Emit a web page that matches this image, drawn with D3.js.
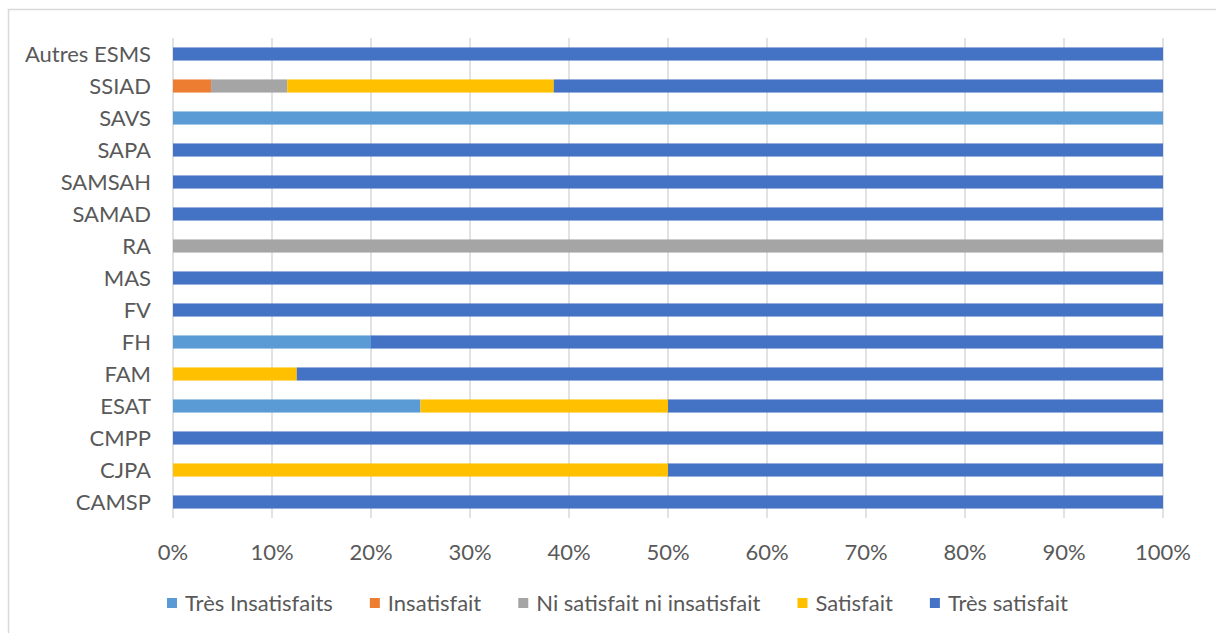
<!DOCTYPE html>
<html>
<head>
<meta charset="utf-8">
<script src="https://cdn.jsdelivr.net/npm/d3@7"></script>
<style>
  body { margin: 0; background: #fff; }
  svg text { font-family: Lato, "Open Sans", sans-serif; fill: #595959; }
</style>
</head>
<body>
<svg id="chart" width="1216" height="633"></svg>
<script>
// categories, top to bottom
const categories = ["Autres ESMS", "SSIAD", "SAVS", "SAPA", "SAMSAH", "SAMAD", "RA", "MAS", "FV", "FH", "FAM", "ESAT", "CMPP", "CJPA", "CAMSP"]

const seriesNames = ["Très Insatisfaits", "Insatisfait", "Ni satisfait ni insatisfait", "Satisfait", "Très satisfait"]
const seriesColors = ["#5B9BD5", "#ED7D31", "#A5A5A5", "#FFC000", "#4472C4"]

// shares per category (fractions), same order as categories
const tresInsatisfaits = [0, 0, 1, 0, 0, 0, 0, 0, 0, 0.2, 0, 0.25, 0, 0, 0]
const insatisfait      = [0, 1/26, 0, 0, 0, 0, 0, 0, 0, 0, 0, 0, 0, 0, 0]
const niNi             = [0, 2/26, 0, 0, 0, 0, 1, 0, 0, 0, 0, 0, 0, 0, 0]
const satisfait        = [0, 7/26, 0, 0, 0, 0, 0, 0, 0, 0, 0.125, 0.25, 0, 0.5, 0]
const tresSatisfait    = [1, 16/26, 0, 1, 1, 1, 0, 1, 1, 0.8, 0.875, 0.5, 1, 0.5, 1]

const xTicks = [0, 0.1, 0.2, 0.3, 0.4, 0.5, 0.6, 0.7, 0.8, 0.9, 1]

const fontSize = "22px"

const svg = d3.select("#chart")

// outer frame (only top and left are visible in the picture)
svg.append("path")
  .attr("d", "M8.5,633 V9.5 H1216")
  .attr("fill", "none")
  .attr("stroke", "#d9d9d9")
  .attr("stroke-width", 1.5)

const rows = categories.map((c, i) => ({
  cat: c,
  "Très Insatisfaits": tresInsatisfaits[i],
  "Insatisfait": insatisfait[i],
  "Ni satisfait ni insatisfait": niNi[i],
  "Satisfait": satisfait[i],
  "Très satisfait": tresSatisfait[i]
}))

const x = d3.scaleLinear().domain([0, 1]).range([173, 1163])
const y = d3.scaleBand().domain(categories).range([38, 518]).paddingInner(0.59).paddingOuter(0.295)

const stack = d3.stack().keys(seriesNames)(rows)

// grid
svg.append("g")
  .selectAll("line")
  .data(xTicks)
  .join("line")
  .attr("x1", d => x(d))
  .attr("x2", d => x(d))
  .attr("y1", 38)
  .attr("y2", 518)
  .attr("stroke", "#d9d9d9")
  .attr("stroke-width", 1.5)

// bars
svg.append("g")
  .selectAll("g")
  .data(stack)
  .join("g")
  .attr("fill", (d, i) => seriesColors[i])
  .selectAll("rect")
  .data(d => d)
  .join("rect")
  .attr("x", d => x(d[0]))
  .attr("width", d => x(d[1]) - x(d[0]))
  .attr("y", d => y(d.data.cat))
  .attr("height", y.bandwidth())

// category labels
svg.append("g")
  .selectAll("text")
  .data(categories)
  .join("text")
  .attr("x", 151)
  .attr("y", d => y(d) + y.bandwidth() / 2)
  .attr("dy", "0.35em")
  .attr("text-anchor", "end")
  .style("font-size", fontSize)
  .text(d => d)

// x tick labels
svg.append("g")
  .selectAll("text")
  .data(xTicks)
  .join("text")
  .attr("x", d => x(d))
  .attr("y", 552)
  .attr("dy", "0.35em")
  .attr("text-anchor", "middle")
  .style("font-size", fontSize)
  .text(d => d3.format(".0%")(d))

// legend
const legend = svg.append("g")
let lx = 167
seriesNames.forEach((name, i) => {
  legend.append("rect")
    .attr("x", lx)
    .attr("y", 598)
    .attr("width", 10)
    .attr("height", 10)
    .attr("fill", seriesColors[i])
  const t = legend.append("text")
    .attr("x", lx + 18)
    .attr("y", 603)
    .attr("dy", "0.35em")
    .style("font-size", fontSize)
    .text(name)
  lx += 18 + t.node().getComputedTextLength() + 37
})
</script>
</body>
</html>
